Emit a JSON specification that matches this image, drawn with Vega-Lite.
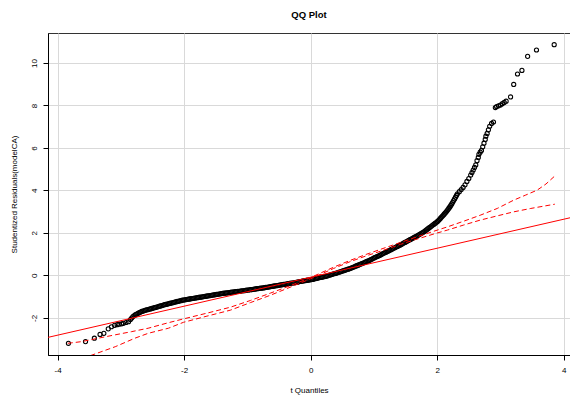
{
  "$schema": "https://vega.github.io/schema/vega-lite/v6.json",
  "width": 522,
  "height": 322,
  "autosize": {"type": "none"},
  "padding": {"left": 48, "top": 33, "right": 0, "bottom": 42},
  "title": {"text": "QQ Plot", "font": "Liberation Sans", "fontSize": 9.5, "fontWeight": "bold", "color": "#000", "anchor": "middle", "offset": 14},
  "config": {
    "view": {"stroke": "#333", "strokeWidth": 1},
    "font": "Liberation Sans",
    "axis": {"labelFont": "Liberation Sans", "labelFontSize": 8, "labelColor": "#000", "titleFont": "Liberation Sans", "titleFontSize": 8, "titleFontWeight": "normal", "titleColor": "#000", "domainColor": "#000", "domainWidth": 1, "tickColor": "#000", "tickSize": 5, "gridColor": "#D9D9D9", "gridWidth": 1}
  },
  "datasets": {
    "pts": [
      {"x": -3.83, "y": -3.2}, {"x": -3.56, "y": -3.12}, {"x": -3.42, "y": -2.96}, {"x": -3.33, "y": -2.78}, {"x": -3.27, "y": -2.73},
      {"x": -3.2, "y": -2.52}, {"x": -3.15, "y": -2.42}, {"x": -3.1, "y": -2.35}, {"x": -3.06, "y": -2.32}, {"x": -3.03, "y": -2.3},
      {"x": -2.99, "y": -2.28}, {"x": -2.96, "y": -2.26}, {"x": -2.92, "y": -2.22}, {"x": -2.88, "y": -2.18},
      {"x": -2.85, "y": -2.08}, {"x": -2.81, "y": -1.94}, {"x": -2.77, "y": -1.85}, {"x": -2.73, "y": -1.79}, {"x": -2.69, "y": -1.73},
      {"x": -2.65, "y": -1.68}, {"x": -2.61, "y": -1.64}, {"x": -2.57, "y": -1.61}, {"x": -2.53, "y": -1.58}, {"x": -2.49, "y": -1.54},
      {"x": -2.45, "y": -1.51}, {"x": -2.41, "y": -1.47}, {"x": -2.37, "y": -1.44}, {"x": -2.33, "y": -1.4}, {"x": -2.29, "y": -1.37},
      {"x": -2.25, "y": -1.34}, {"x": -2.21, "y": -1.31}, {"x": -2.17, "y": -1.28}, {"x": -2.13, "y": -1.25}, {"x": -2.09, "y": -1.22},
      {"x": -2.05, "y": -1.19}, {"x": -2.01, "y": -1.16}, {"x": -1.97, "y": -1.14}, {"x": -1.93, "y": -1.12}, {"x": -1.89, "y": -1.1},
      {"x": -1.85, "y": -1.08}, {"x": -1.81, "y": -1.06}, {"x": -1.77, "y": -1.04}, {"x": -1.73, "y": -1.02}, {"x": -1.69, "y": -1.0},
      {"x": -1.65, "y": -0.98}, {"x": -1.61, "y": -0.96}, {"x": -1.57, "y": -0.94}, {"x": -1.53, "y": -0.92}, {"x": -1.49, "y": -0.9},
      {"x": -1.45, "y": -0.88}, {"x": -1.41, "y": -0.86}, {"x": -1.37, "y": -0.84}, {"x": -1.33, "y": -0.83}, {"x": -1.29, "y": -0.81},
      {"x": -1.25, "y": -0.79}, {"x": -1.21, "y": -0.78}, {"x": -1.17, "y": -0.76}, {"x": -1.13, "y": -0.75}, {"x": -1.09, "y": -0.73},
      {"x": -1.05, "y": -0.72}, {"x": -1.01, "y": -0.7}, {"x": -0.97, "y": -0.68}, {"x": -0.93, "y": -0.67}, {"x": -0.89, "y": -0.65},
      {"x": -0.85, "y": -0.63}, {"x": -0.81, "y": -0.61}, {"x": -0.77, "y": -0.6}, {"x": -0.73, "y": -0.58}, {"x": -0.69, "y": -0.56},
      {"x": -0.65, "y": -0.54}, {"x": -0.61, "y": -0.52}, {"x": -0.57, "y": -0.5}, {"x": -0.53, "y": -0.48}, {"x": -0.49, "y": -0.46},
      {"x": -0.45, "y": -0.44}, {"x": -0.41, "y": -0.42}, {"x": -0.37, "y": -0.4}, {"x": -0.33, "y": -0.38}, {"x": -0.29, "y": -0.36},
      {"x": -0.25, "y": -0.34}, {"x": -0.21, "y": -0.32}, {"x": -0.17, "y": -0.29}, {"x": -0.13, "y": -0.27}, {"x": -0.09, "y": -0.25},
      {"x": -0.05, "y": -0.23}, {"x": -0.01, "y": -0.21}, {"x": 0.03, "y": -0.19}, {"x": 0.07, "y": -0.16}, {"x": 0.11, "y": -0.13},
      {"x": 0.15, "y": -0.1}, {"x": 0.19, "y": -0.08}, {"x": 0.23, "y": -0.05}, {"x": 0.27, "y": -0.02}, {"x": 0.31, "y": 0.02},
      {"x": 0.35, "y": 0.06}, {"x": 0.39, "y": 0.09}, {"x": 0.43, "y": 0.13}, {"x": 0.47, "y": 0.17}, {"x": 0.51, "y": 0.21},
      {"x": 0.55, "y": 0.25}, {"x": 0.59, "y": 0.29}, {"x": 0.63, "y": 0.33}, {"x": 0.67, "y": 0.38}, {"x": 0.71, "y": 0.43},
      {"x": 0.75, "y": 0.48}, {"x": 0.79, "y": 0.53}, {"x": 0.83, "y": 0.58}, {"x": 0.87, "y": 0.63}, {"x": 0.91, "y": 0.68},
      {"x": 0.95, "y": 0.74}, {"x": 0.99, "y": 0.8}, {"x": 1.03, "y": 0.86}, {"x": 1.07, "y": 0.91}, {"x": 1.11, "y": 0.97},
      {"x": 1.15, "y": 1.03}, {"x": 1.19, "y": 1.09}, {"x": 1.23, "y": 1.15}, {"x": 1.27, "y": 1.21}, {"x": 1.31, "y": 1.27},
      {"x": 1.35, "y": 1.33}, {"x": 1.39, "y": 1.39}, {"x": 1.43, "y": 1.45}, {"x": 1.47, "y": 1.52}, {"x": 1.51, "y": 1.58},
      {"x": 1.55, "y": 1.65}, {"x": 1.59, "y": 1.71}, {"x": 1.63, "y": 1.78}, {"x": 1.67, "y": 1.84}, {"x": 1.71, "y": 1.91},
      {"x": 1.75, "y": 1.98}, {"x": 1.79, "y": 2.05}, {"x": 1.83, "y": 2.14}, {"x": 1.87, "y": 2.23}, {"x": 1.91, "y": 2.32},
      {"x": 1.95, "y": 2.41}, {"x": 1.99, "y": 2.5}, {"x": 2.02, "y": 2.58}, {"x": 2.05, "y": 2.68}, {"x": 2.08, "y": 2.78},
      {"x": 2.11, "y": 2.88}, {"x": 2.14, "y": 2.98}, {"x": 2.17, "y": 3.1}, {"x": 2.2, "y": 3.22}, {"x": 2.23, "y": 3.36},
      {"x": 2.26, "y": 3.52}, {"x": 2.29, "y": 3.68}, {"x": 2.32, "y": 3.84}, {"x": 2.35, "y": 3.94}, {"x": 2.38, "y": 4.04},
      {"x": 2.41, "y": 4.14}, {"x": 2.44, "y": 4.26}, {"x": 2.47, "y": 4.42}, {"x": 2.5, "y": 4.56}, {"x": 2.53, "y": 4.72},
      {"x": 2.55, "y": 4.84}, {"x": 2.57, "y": 4.96}, {"x": 2.59, "y": 5.08}, {"x": 2.61, "y": 5.2}, {"x": 2.63, "y": 5.4},
      {"x": 2.65, "y": 5.55}, {"x": 2.66, "y": 5.7}, {"x": 2.68, "y": 5.8}, {"x": 2.7, "y": 5.88}, {"x": 2.72, "y": 6.05},
      {"x": 2.74, "y": 6.22}, {"x": 2.76, "y": 6.4}, {"x": 2.77, "y": 6.55}, {"x": 2.79, "y": 6.68}, {"x": 2.81, "y": 6.85},
      {"x": 2.83, "y": 7.02}, {"x": 2.86, "y": 7.15}, {"x": 2.89, "y": 7.22}, {"x": 2.92, "y": 7.9}, {"x": 2.94, "y": 7.95},
      {"x": 2.97, "y": 7.98}, {"x": 3.0, "y": 8.02}, {"x": 3.03, "y": 8.08}, {"x": 3.06, "y": 8.14}, {"x": 3.09, "y": 8.2},
      {"x": 3.16, "y": 8.4}, {"x": 3.21, "y": 8.99}, {"x": 3.27, "y": 9.48}, {"x": 3.34, "y": 9.65}, {"x": 3.43, "y": 10.31},
      {"x": 3.57, "y": 10.61}, {"x": 3.85, "y": 10.86},
      {"x": -2.83, "y": -2.01}, {"x": -2.79, "y": -1.89}, {"x": -2.75, "y": -1.82}, {"x": -2.71, "y": -1.76}, {"x": -2.67, "y": -1.7},
      {"x": -2.63, "y": -1.66}, {"x": -2.59, "y": -1.62}, {"x": -2.55, "y": -1.59}, {"x": -2.51, "y": -1.56}, {"x": -2.47, "y": -1.52},
      {"x": -2.43, "y": -1.49}, {"x": -2.39, "y": -1.45}, {"x": -2.35, "y": -1.42}, {"x": -2.31, "y": -1.38}, {"x": -2.27, "y": -1.35},
      {"x": -2.23, "y": -1.32}, {"x": -2.19, "y": -1.29}, {"x": -2.15, "y": -1.26}, {"x": -2.11, "y": -1.23}, {"x": -2.07, "y": -1.2},
      {"x": -2.03, "y": -1.17}, {"x": -1.99, "y": -1.15}, {"x": -1.95, "y": -1.13}, {"x": -1.91, "y": -1.11}, {"x": -1.87, "y": -1.09},
      {"x": -1.83, "y": -1.07}, {"x": -1.79, "y": -1.05}, {"x": -1.75, "y": -1.03}, {"x": -1.71, "y": -1.01}, {"x": -1.67, "y": -0.99},
      {"x": -1.63, "y": -0.97}, {"x": -1.59, "y": -0.95}, {"x": -1.55, "y": -0.93}, {"x": -1.51, "y": -0.91}, {"x": -1.47, "y": -0.89},
      {"x": -1.43, "y": -0.87}, {"x": -1.39, "y": -0.85}, {"x": -1.35, "y": -0.835}, {"x": -1.31, "y": -0.82}, {"x": -1.27, "y": -0.8},
      {"x": -1.23, "y": -0.785}, {"x": -1.19, "y": -0.77}, {"x": -1.15, "y": -0.755}, {"x": -1.11, "y": -0.74}, {"x": -1.07, "y": -0.725},
      {"x": -1.03, "y": -0.71}, {"x": -0.99, "y": -0.69}, {"x": -0.95, "y": -0.675}, {"x": -0.91, "y": -0.66}, {"x": -0.87, "y": -0.64},
      {"x": -0.83, "y": -0.62}, {"x": -0.79, "y": -0.605}, {"x": -0.75, "y": -0.59}, {"x": -0.71, "y": -0.57}, {"x": -0.67, "y": -0.55},
      {"x": -0.63, "y": -0.53}, {"x": -0.59, "y": -0.51}, {"x": -0.55, "y": -0.49}, {"x": -0.51, "y": -0.47}, {"x": -0.47, "y": -0.45},
      {"x": -0.43, "y": -0.43}, {"x": -0.39, "y": -0.41}, {"x": -0.35, "y": -0.39}, {"x": -0.31, "y": -0.37}, {"x": -0.27, "y": -0.35},
      {"x": -0.23, "y": -0.33}, {"x": -0.19, "y": -0.305}, {"x": -0.15, "y": -0.28}, {"x": -0.11, "y": -0.26}, {"x": -0.07, "y": -0.24},
      {"x": -0.03, "y": -0.22}, {"x": 0.01, "y": -0.2}, {"x": 0.05, "y": -0.175}, {"x": 0.09, "y": -0.145}, {"x": 0.13, "y": -0.115},
      {"x": 0.17, "y": -0.09}, {"x": 0.21, "y": -0.065}, {"x": 0.25, "y": -0.035}, {"x": 0.29, "y": 0.0}, {"x": 0.33, "y": 0.04},
      {"x": 0.37, "y": 0.075}, {"x": 0.41, "y": 0.11}, {"x": 0.45, "y": 0.15}, {"x": 0.49, "y": 0.19}, {"x": 0.53, "y": 0.23},
      {"x": 0.57, "y": 0.27}, {"x": 0.61, "y": 0.31}, {"x": 0.65, "y": 0.355}, {"x": 0.69, "y": 0.405}, {"x": 0.73, "y": 0.455},
      {"x": 0.77, "y": 0.505}, {"x": 0.81, "y": 0.555}, {"x": 0.85, "y": 0.605}, {"x": 0.89, "y": 0.655}, {"x": 0.93, "y": 0.71},
      {"x": 0.97, "y": 0.77}, {"x": 1.01, "y": 0.83}, {"x": 1.05, "y": 0.885}, {"x": 1.09, "y": 0.94}, {"x": 1.13, "y": 1.0},
      {"x": 1.17, "y": 1.06}, {"x": 1.21, "y": 1.12}, {"x": 1.25, "y": 1.18}, {"x": 1.29, "y": 1.24}, {"x": 1.33, "y": 1.3},
      {"x": 1.37, "y": 1.36}, {"x": 1.41, "y": 1.42}, {"x": 1.45, "y": 1.485}, {"x": 1.49, "y": 1.55}, {"x": 1.53, "y": 1.615},
      {"x": 1.57, "y": 1.68}, {"x": 1.61, "y": 1.745}, {"x": 1.65, "y": 1.81}, {"x": 1.69, "y": 1.875}, {"x": 1.73, "y": 1.945},
      {"x": 1.77, "y": 2.015}, {"x": 1.81, "y": 2.095}, {"x": 1.85, "y": 2.185}, {"x": 1.89, "y": 2.275}, {"x": 1.93, "y": 2.365},
      {"x": 1.97, "y": 2.455}, {"x": 2.005, "y": 2.54}, {"x": 2.035, "y": 2.63}, {"x": 2.065, "y": 2.73}, {"x": 2.095, "y": 2.83},
      {"x": 2.125, "y": 2.93}, {"x": 2.155, "y": 3.04}, {"x": 2.185, "y": 3.16}, {"x": 2.215, "y": 3.29}, {"x": 2.245, "y": 3.44},
      {"x": 2.275, "y": 3.6}, {"x": 2.305, "y": 3.76}
    ],
    "fit": [
      {"x": -4.153, "y": -2.92}, {"x": 4.1, "y": 2.71}
    ],
    "env": [
      {"band": "upper", "x": -3.84, "y": -3.2}, {"band": "upper", "x": -3.62, "y": -3.12}, {"band": "upper", "x": -3.36, "y": -2.96},
      {"band": "upper", "x": -3.09, "y": -2.8}, {"band": "upper", "x": -2.83, "y": -2.65}, {"band": "upper", "x": -2.57, "y": -2.49},
      {"band": "upper", "x": -2.25, "y": -2.23}, {"band": "upper", "x": -2.01, "y": -2.05}, {"band": "upper", "x": -1.64, "y": -1.78},
      {"band": "upper", "x": -1.27, "y": -1.5}, {"band": "upper", "x": -0.95, "y": -1.18}, {"band": "upper", "x": -0.64, "y": -0.84},
      {"band": "upper", "x": -0.3, "y": -0.46}, {"band": "upper", "x": 0.0, "y": -0.1}, {"band": "upper", "x": 0.36, "y": 0.38},
      {"band": "upper", "x": 0.62, "y": 0.7}, {"band": "upper", "x": 0.89, "y": 1.0}, {"band": "upper", "x": 1.1, "y": 1.22},
      {"band": "upper", "x": 1.42, "y": 1.55}, {"band": "upper", "x": 1.63, "y": 1.76}, {"band": "upper", "x": 1.95, "y": 2.08},
      {"band": "upper", "x": 2.16, "y": 2.28}, {"band": "upper", "x": 2.42, "y": 2.55}, {"band": "upper", "x": 2.68, "y": 2.83},
      {"band": "upper", "x": 2.95, "y": 3.15}, {"band": "upper", "x": 3.21, "y": 3.54}, {"band": "upper", "x": 3.4, "y": 3.78},
      {"band": "upper", "x": 3.58, "y": 4.01}, {"band": "upper", "x": 3.72, "y": 4.3}, {"band": "upper", "x": 3.86, "y": 4.68},
      {"band": "lower", "x": -3.84, "y": -4.16}, {"band": "lower", "x": -3.53, "y": -3.83}, {"band": "lower", "x": -3.09, "y": -3.36},
      {"band": "lower", "x": -2.78, "y": -2.96}, {"band": "lower", "x": -2.57, "y": -2.73}, {"band": "lower", "x": -2.25, "y": -2.49},
      {"band": "lower", "x": -2.01, "y": -2.21}, {"band": "lower", "x": -1.64, "y": -1.92}, {"band": "lower", "x": -1.27, "y": -1.64},
      {"band": "lower", "x": -0.95, "y": -1.28}, {"band": "lower", "x": -0.64, "y": -0.94}, {"band": "lower", "x": -0.3, "y": -0.53},
      {"band": "lower", "x": 0.0, "y": -0.16}, {"band": "lower", "x": 0.36, "y": 0.32}, {"band": "lower", "x": 0.62, "y": 0.64},
      {"band": "lower", "x": 0.89, "y": 0.93}, {"band": "lower", "x": 1.1, "y": 1.13}, {"band": "lower", "x": 1.42, "y": 1.46},
      {"band": "lower", "x": 1.63, "y": 1.66}, {"band": "lower", "x": 1.95, "y": 1.95}, {"band": "lower", "x": 2.16, "y": 2.13},
      {"band": "lower", "x": 2.42, "y": 2.37}, {"band": "lower", "x": 2.68, "y": 2.6}, {"band": "lower", "x": 2.95, "y": 2.8},
      {"band": "lower", "x": 3.21, "y": 2.99}, {"band": "lower", "x": 3.48, "y": 3.15}, {"band": "lower", "x": 3.86, "y": 3.35}
    ]
  },
  "encoding": {
    "x": {"field": "x", "type": "quantitative", "scale": {"domain": [-4.153, 4.1], "nice": false, "zero": false},
      "axis": {"values": [-4, -2, 0, 2, 4], "title": "t Quantiles", "labelPadding": 6, "titlePadding": 12, "labelFlush": false, "labelExpr": "'' + datum.value"}},
    "y": {"field": "y", "type": "quantitative", "scale": {"domain": [-3.75, 11.41], "nice": false, "zero": false},
      "axis": {"values": [-2, 0, 2, 4, 6, 8, 10], "title": "Studentized Residuals(modelCA)", "labelAngle": -90, "labelAlign": "center", "labelBaseline": "bottom", "labelPadding": 5, "titlePadding": 12, "labelExpr": "'' + datum.value"}}
  },
  "layer": [
    {"data": {"name": "pts"}, "mark": {"type": "point", "shape": "circle", "filled": false, "color": "#000", "size": 17, "strokeWidth": 1.1, "opacity": 1}},
    {"data": {"name": "fit"}, "mark": {"type": "line", "color": "#FF0000", "strokeWidth": 1, "clip": true}},
    {"data": {"name": "env"}, "mark": {"type": "line", "color": "#FF0000", "strokeWidth": 1, "strokeDash": [5, 3], "clip": true},
      "encoding": {"detail": {"field": "band", "type": "nominal"}}}
  ]
}
